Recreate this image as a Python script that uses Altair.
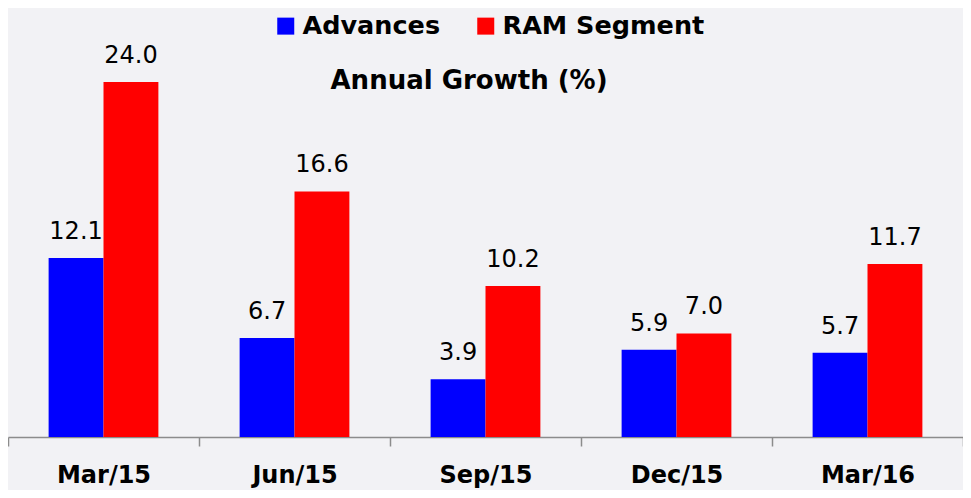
import altair as alt
import pandas as pd

categories = ["Mar/15", "Jun/15", "Sep/15", "Dec/15", "Mar/16"]
advances = [12.1, 6.7, 3.9, 5.9, 5.7]
ram_segment = [24.0, 16.6, 10.2, 7.0, 11.7]
series_names = ["Advances", "RAM Segment"]
series_colors = ["#0000ff", "#ff0000"]

rows = []
for c, a, r in zip(categories, advances, ram_segment):
    rows.append({"period": c, "series": series_names[0], "value": a})
    rows.append({"period": c, "series": series_names[1], "value": r})
df = pd.DataFrame(rows)

FONT = "DejaVu Sans"

x = alt.X("period:N", sort=categories, title=None,
          scale=alt.Scale(paddingInner=0, paddingOuter=0),
          axis=alt.Axis(labelAngle=0, labelFontSize=24, labelFontWeight="bold",
                        labelColor="#000000", labelFont=FONT, labelPadding=17,
                        domainColor="#8c8c8c", domainWidth=1.5, tickColor="#8c8c8c",
                        tickWidth=1.5, tickSize=9, tickBand="extent"))
xo = alt.XOffset("series:N", sort=series_names,
                 scale=alt.Scale(paddingInner=0, paddingOuter=0.74))
y = alt.Y("value:Q", scale=alt.Scale(domain=[0, 29], nice=False, zero=True),
          axis=None)

bars = alt.Chart(df).mark_bar(stroke=None).encode(
    x=x, xOffset=xo, y=y,
    color=alt.Color("series:N", sort=series_names,
                    scale=alt.Scale(domain=series_names, range=series_colors),
                    legend=alt.Legend(title=None, orient="none", direction="horizontal",
                                      legendX=265, legendY=5, symbolType="square",
                                      symbolSize=289, symbolStrokeWidth=0,
                                      labelFontSize=25.5, labelFontWeight="bold",
                                      labelFont=FONT, labelColor="#000000",
                                      labelLimit=500, labelOffset=4, columnPadding=32)),
)

labels = alt.Chart(df).mark_text(baseline="alphabetic", dy=-19, fontSize=24,
                                 font=FONT, color="#000000").encode(
    x=x, xOffset=xo, y=y,
    text=alt.Text("value:Q", format=".1f"),
)

title = alt.Chart(pd.DataFrame({"t": ["Annual Growth (%)"]})).mark_text(
    fontSize=26, fontWeight="bold", font=FONT, color="#000000", baseline="alphabetic"
).encode(x=alt.value(461), y=alt.value(81), text="t:N")

chart = alt.layer(bars, labels, title).properties(
    width=955, height=429, background="#f2f2f5",
    autosize=alt.AutoSizeParams(type="none"),
    padding={"left": 0, "top": 0, "right": 0, "bottom": 53},
).configure_view(stroke=None)

chart.save("out.html", embed_options={"renderer": "svg", "actions": False})
